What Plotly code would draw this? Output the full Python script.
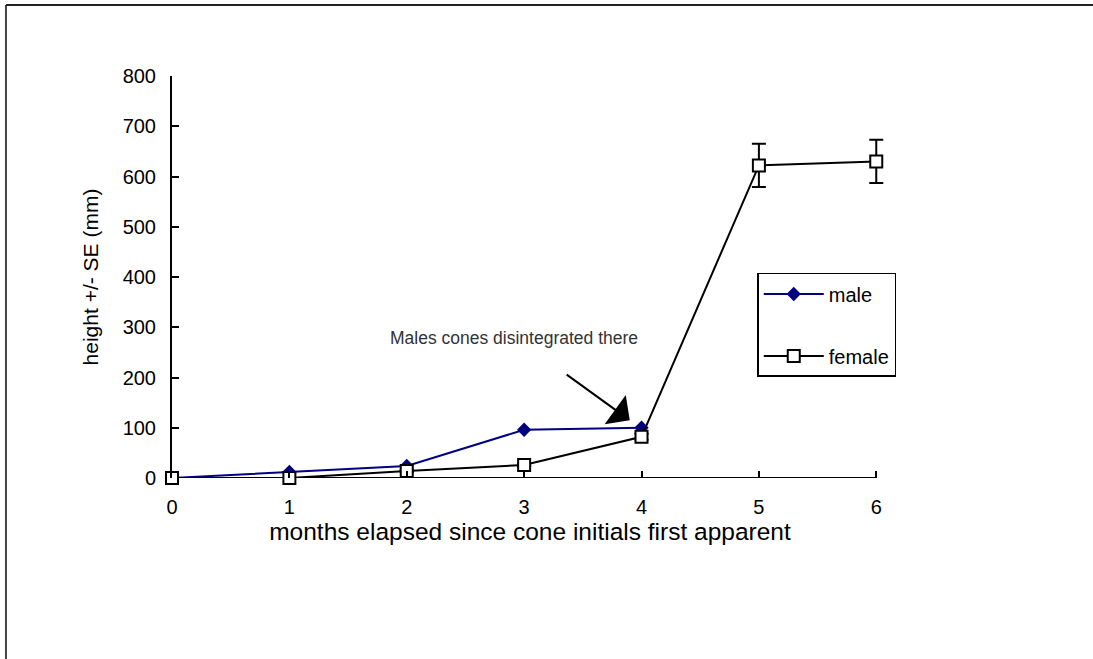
import plotly.graph_objects as go

months = [0, 1, 2, 3, 4, 5, 6]
male_x = [0, 1, 2, 3, 4]
male_y = [0, 12, 24, 96, 100]
female_y = [0, 0, 14, 26, 82, 622, 630]
female_se = [0, 0, 2, 3, 6, 43, 43]

FONT = "Liberation Sans"

fig = go.Figure()
fig.add_trace(go.Scatter(
    x=male_x, y=male_y, name="male", mode="lines+markers",
    line=dict(color="#000080", width=2),
    marker=dict(symbol="diamond", size=11, color="#000080"),
    cliponaxis=False, legendgroup="m",
))
fig.add_trace(go.Scatter(
    x=months, y=female_y, name="female", mode="lines+markers",
    line=dict(color="black", width=2),
    marker=dict(symbol="square", size=12, color="white", line=dict(color="black", width=2)),
    error_y=dict(type="data", array=female_se, visible=True, color="black", thickness=2, width=7),
    cliponaxis=False, legendgroup="f",
))

fig.add_annotation(
    x=2.91, y=279, xref="x", yref="y", text="Males cones disintegrated there",
    showarrow=False, font=dict(family=FONT, size=17.5, color="#333333"),
)
fig.add_annotation(
    x=3.90, y=115, ax=3.35, ay=208, xref="x", yref="y", axref="x", ayref="y",
    text="", showarrow=True, arrowhead=1, arrowsize=3, arrowwidth=2, arrowcolor="black",
)

# x axis line from first to last month
fig.add_shape(type="line", xref="x", yref="y", x0=months[0], x1=months[-1], y0=0, y1=0,
              line=dict(color="black", width=2), layer="below")

# outer frame (left and top edges only visible)
fig.add_shape(type="line", xref="paper", yref="paper", x0=-0.2319, x1=-0.2319, y0=-1, y1=1.1766,
              line=dict(color="#444444", width=2))
fig.add_shape(type="line", xref="paper", yref="paper", x0=-0.2319, x1=2, y0=1.1766, y1=1.1766,
              line=dict(color="#222222", width=2))

fig.update_layout(
    width=1093, height=659,
    margin=dict(l=172, r=205, t=76, b=181),
    paper_bgcolor="white", plot_bgcolor="white",
    font=dict(family=FONT, size=20, color="black"),
    showlegend=True,
    legend=dict(
        x=0.8174, y=0.51, xanchor="left", yanchor="top",
        bordercolor="black", borderwidth=1.5, bgcolor="white",
        font=dict(family=FONT, size=20), tracegroupgap=33,
        itemwidth=60,
    ),
    xaxis=dict(
        range=[0, 6.1], tickvals=months, ticks="inside", ticklen=7, tickwidth=2,
        tickcolor="black", showline=False,
        showgrid=False, zeroline=False, ticklabelstandoff=15,
        title=dict(text="months elapsed since cone initials first apparent",
                   font=dict(size=24.5), standoff=1),
    ),
    yaxis=dict(
        range=[0, 800], tickvals=[0, 100, 200, 300, 400, 500, 600, 700, 800],
        ticks="inside", ticklen=7, tickwidth=2, tickcolor="black",
        showline=True, linecolor="black", linewidth=2, showgrid=False, zeroline=False,
        ticklabelstandoff=10,
        title=dict(text="height +/- SE (mm)", font=dict(size=21), standoff=18),
    ),
)

fig.write_html("out.html", post_script="document.body.style.margin='0';",
               config={"displayModeBar": False})
